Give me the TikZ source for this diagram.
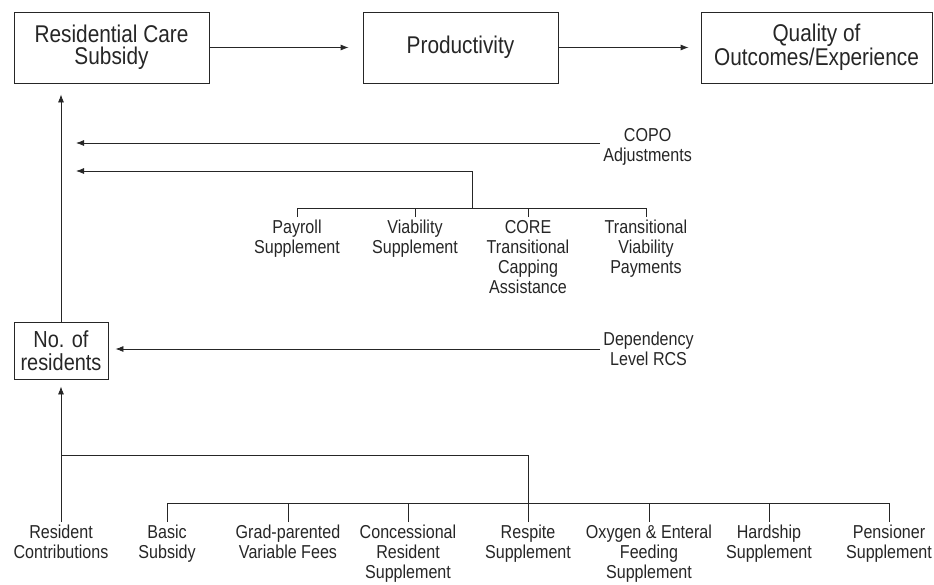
\documentclass[tikz,border=0pt]{standalone}
\usepackage{fontspec}
\setmainfont{Liberation Sans}[FakeStretch=0.86]
\usetikzlibrary{arrows.meta}

\begin{document}
\begin{tikzpicture}[x=1pt, y=-1pt, line width=0.8pt, color=black!85,
    box/.style={draw, align=center, minimum height=71pt, inner sep=2pt,
        font=\fontsize{24.2}{22}\selectfont},
    lbl/.style={align=center, inner sep=3pt, anchor=north,
        font=\fontsize{18.7}{20}\selectfont},
    arr/.style={-{Latex[length=8pt, width=6pt]}}]
    \useasboundingbox (0,0) rectangle (934,584);
    \begin{scope}
        \node[box, minimum width=195pt] (rcs) at (111.5,47.5) {Residential Care\\Subsidy};
        \node[box, minimum width=195pt] (prod) at (460.5,47.5) {Productivity};
        \node[box, minimum width=231pt] (qual) at (816.5,47.5) {Quality of\\Outcomes/Experience};
        \draw[arr, shorten >=14pt] (rcs) -- (prod);
        \draw[arr, shorten >=12pt] (prod) -- (qual);
    \end{scope}
    \node[box, minimum width=94pt, minimum height=57pt,
        font=\fontsize{23.2}{22.5}\selectfont] (nores) at (61,350.5) {No. of\\residents};
    \draw[arr, shorten >=11pt] (nores.north) -- (nores.north |- rcs.south);
    % supplements into the subsidy
    \node[lbl, anchor=west] (copo) at (600,147) {COPO\\Adjustments};
    \coordinate (copotip) at (76,143);
    \draw[arr] ([yshift=4pt]copo.west) -- (copotip);
    \node[lbl] (payroll) at (297,217) {Payroll\\Supplement};
    \node[lbl] (viab) at (415,217) {Viability\\Supplement};
    \node[lbl] (core) at (528,217) {CORE\\Transitional\\Capping\\Assistance};
    \node[lbl] (tvp) at (646,217) {Transitional\\Viability\\Payments};
    \coordinate (upbar) at (472,208);
    \coordinate (bracetip) at (76,171);
    \draw (payroll.north) |- (upbar -| tvp.north) -- (tvp.north);
    \foreach \n in {viab, core}
        \draw (\n.north) -- (\n.north |- upbar);
    \draw[arr] (upbar) |- (bracetip);
    \node[lbl, anchor=west] (dep) at (600,349) {Dependency\\Level RCS};
    \draw[arr, shorten >=7pt] (dep.west) -- (dep.west -| nores.east);
    % income for the residents
    \node[lbl] (rescon) at (61,522) {Resident\\Contributions};
    \node[lbl] (basic) at (167,522) {Basic\\Subsidy};
    \node[lbl] (grad) at (288,522) {Grad-parented\\Variable Fees};
    \node[lbl] (conc) at (408,522) {Concessional\\Resident\\Supplement};
    \node[lbl] (resp) at (528,522) {Respite\\Supplement};
    \node[lbl] (oxy) at (649,522) {Oxygen \& Enteral\\Feeding\\Supplement};
    \node[lbl] (hard) at (769,522) {Hardship\\Supplement};
    \node[lbl] (pens) at (889,522) {Pensioner\\Supplement};
    \draw[arr, shorten >=7pt] (rescon.north) -- (nores.south);
    \coordinate (lowjoin) at (61,455);
    \coordinate (lowbar) at (167,503);
    \draw (resp.north) |- (lowjoin);
    \draw (basic.north) |- (lowbar -| pens.north) -- (pens.north);
    \foreach \n in {grad, conc, oxy, hard}
        \draw (\n.north) -- (\n.north |- lowbar);
\end{tikzpicture}
\end{document}
